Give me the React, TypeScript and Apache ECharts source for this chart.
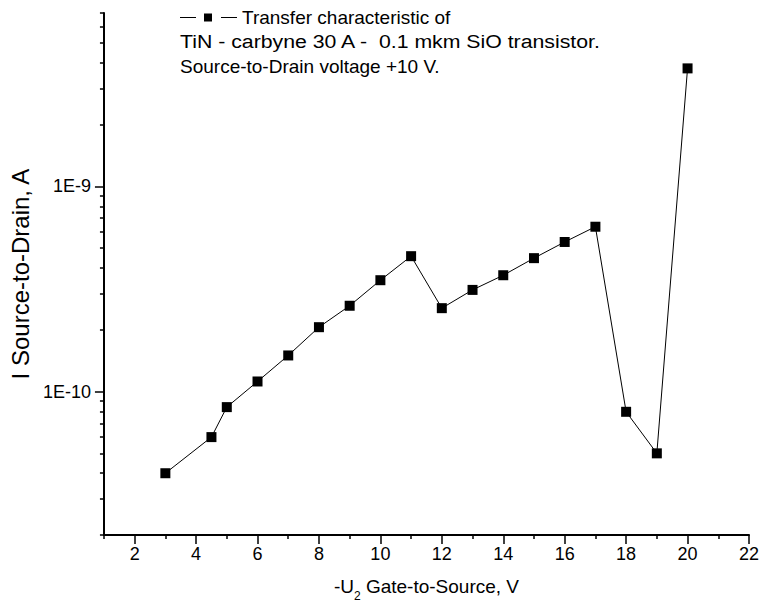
import React, { useEffect, useRef } from 'react';
import * as echarts from 'echarts';

// ---- data ----
const gateVoltage = [3, 4.5, 5, 6, 7, 8, 9, 10, 11, 12, 13, 14, 15, 16, 17, 18, 19, 20];
const drainCurrent = [
  4.0e-11, 6.0e-11, 8.4e-11, 1.12e-10, 1.5e-10, 2.06e-10, 2.62e-10, 3.49e-10, 4.57e-10,
  2.55e-10, 3.13e-10, 3.69e-10, 4.47e-10, 5.36e-10, 6.36e-10, 7.97e-11, 5.0e-11, 3.76e-9,
];
const xMajorTicks = [2, 4, 6, 8, 10, 12, 14, 16, 18, 20, 22];
const xMinorTicks = [1, 3, 5, 7, 9, 11, 13, 15, 17, 19, 21];
const yMajorTicks = [1e-10, 1e-9];
const yMinorTicks = [
  2e-11, 3e-11, 4e-11, 5e-11, 6e-11, 7e-11, 8e-11, 9e-11,
  2e-10, 3e-10, 4e-10, 5e-10, 6e-10, 7e-10, 8e-10, 9e-10,
  2e-9, 3e-9, 4e-9, 5e-9, 6e-9, 7e-9,
];
const seriesName = 'Transfer characteristic of';
const noteLine1 = 'TiN - carbyne 30 A -  0.1 mkm SiO transistor.';
const noteLine2 = 'Source-to-Drain voltage +10 V.';
const xName = '-U{sub|2} Gate-to-Source, V';
const yName = 'I Source-to-Drain, A';

const FONT = '"Liberation Sans", Arial, sans-serif';
const FS = 18;
const NOTE_FS = 19;

export default function App() {
  const ref = useRef<HTMLDivElement>(null);
  useEffect(() => {
    document.body.style.margin = '0';
    const chart = echarts.init(ref.current!, null, { renderer: 'svg' });
    const black = '#000';
    const yCommon = {
      type: 'log' as const,
      logBase: 10,
      min: 2e-11,
      max: 7e-9,
      position: 'left' as const,
      splitLine: { show: false },
      minorTick: { show: false },
    };
    const xCommon = {
      type: 'value' as const,
      min: 1,
      max: 22,
      position: 'bottom' as const,
      splitLine: { show: false },
    };
    chart.setOption({
      animation: false,
      textStyle: { fontFamily: FONT },
      grid: { left: 102, right: 11, top: 13, bottom: 69, containLabel: false },
      legend: {
        data: [seriesName],
        left: 175,
        top: 3,
        itemWidth: 57,
        itemHeight: 8,
        icon: 'path://M0,3.5H16V4.5H0Z M24,0H32V8H24Z M41,3.5H57V4.5H41Z',
        textStyle: { fontSize: NOTE_FS, color: black, fontFamily: FONT },
      },
      xAxis: [
        {
          ...xCommon,
          axisLine: { show: true, lineStyle: { color: black, width: 2 } },
          axisTick: { show: true, customValues: xMajorTicks, length: 9, lineStyle: { color: black, width: 1.5 } },
          axisLabel: { show: true, customValues: xMajorTicks, fontSize: FS, color: black, margin: 10, fontFamily: FONT },
          name: xName,
          nameLocation: 'middle',
          nameGap: 35,
          nameTextStyle: {
            fontSize: 19,
            color: black,
            fontFamily: FONT,
            rich: {
              sub: { fontSize: 12, fontFamily: FONT, color: black, verticalAlign: 'bottom', padding: [20, 0, 0, 0] },
            },
          },
        },
        {
          ...xCommon,
          axisLine: { show: false },
          axisTick: { show: true, customValues: xMinorTicks, length: 4, lineStyle: { color: black, width: 1.5 } },
          axisLabel: { show: false },
        },
      ],
      yAxis: [
        {
          ...yCommon,
          axisLine: { show: true, lineStyle: { color: black, width: 2 } },
          axisTick: { show: true, customValues: yMajorTicks, length: 9, lineStyle: { color: black, width: 1.5 } },
          axisLabel: {
            show: true,
            customValues: yMajorTicks,
            fontSize: FS,
            color: black,
            margin: 13,
            fontFamily: FONT,
            formatter: (v: number) => '1E' + Math.round(Math.log10(v)),
          },
          name: yName,
          nameLocation: 'middle',
          nameGap: 67,
          nameTextStyle: { fontSize: 24, color: black, fontFamily: FONT },
        },
        {
          ...yCommon,
          axisLine: { show: false },
          axisTick: { show: true, customValues: yMinorTicks, length: 4, lineStyle: { color: black, width: 1.5 } },
          axisLabel: { show: false },
        },
      ],
      series: [
        {
          name: seriesName,
          type: 'line',
          xAxisIndex: 0,
          yAxisIndex: 0,
          data: gateVoltage.map((x, i) => [x, drainCurrent[i]]),
          symbol: 'rect',
          symbolSize: 10,
          itemStyle: { color: black },
          lineStyle: { color: black, width: 1 },
        },
      ],
      graphic: [
        {
          type: 'text',
          x: 180,
          y: 32,
          scaleX: 1.12,
          style: { text: noteLine1, font: `${NOTE_FS}px ${FONT}`, fill: black },
        },
        {
          type: 'text',
          x: 180,
          y: 57,
          style: { text: noteLine2, font: `${NOTE_FS}px ${FONT}`, fill: black },
        },
      ],
    });
    return () => chart.dispose();
  }, []);
  return <div ref={ref} style={{ position: 'absolute', left: 0, top: 0, width: 762, height: 607 }} />;
}
